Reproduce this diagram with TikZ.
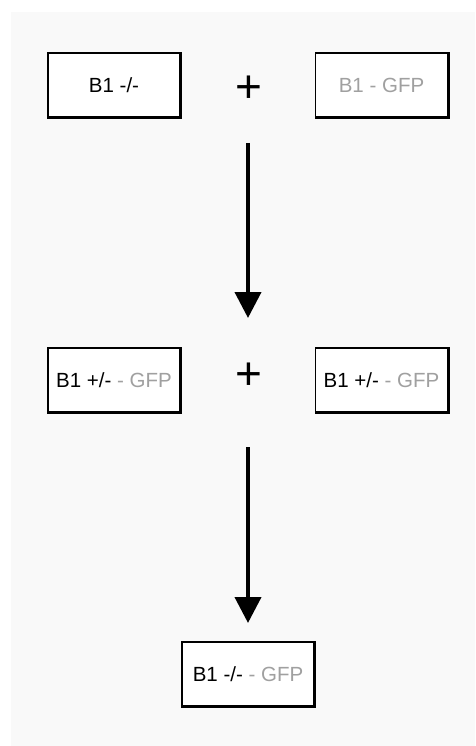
\documentclass[tikz,border=0pt]{standalone}
\usepackage{fontspec}
\setmainfont{Liberation Sans}
\usetikzlibrary{arrows.meta}
\definecolor{bgc}{RGB}{249,249,249}
\definecolor{gfpc}{RGB}{160,160,160}
\tikzset{
  box/.style={draw, line width=1.3pt, fill=white, minimum width=132pt, minimum height=64pt, inner sep=0pt, font=\fontsize{20.5}{24}\selectfont},
  heavy/.style={line width=3pt, line join=miter},
  plussign/.style={inner sep=0pt, font=\fontsize{46}{50}\selectfont},
  bigarrow/.style={line width=4pt, -{Triangle[width=26pt,length=26pt]}}
}
\begin{document}
\begin{tikzpicture}[x=1pt, y=-1pt]
\useasboundingbox (0,0) rectangle (475,746);
\fill[white] (0,0) rectangle (475,746);
\fill[bgc] (11,12) rectangle (475,746);

\node[box] (b1) at (114,85) {B1 -/-};
\node[box, text=gfpc] (b2) at (381.5,85) {B1 - GFP};
\node[plussign] (p1) at (248.5,88.8) {+};

\node[box] (b3) at (114,380) {B1 +/- \textcolor{gfpc}{- GFP}};
\node[box] (b4) at (381.5,380) {B1 +/- \textcolor{gfpc}{- GFP}};
\node[plussign] (p2) at (248.5,376.5) {+};

\node[box] (b5) at (248,674) {B1 -/- \textcolor{gfpc}{- GFP}};

\foreach \n in {b1,b2,b3,b4,b5}
  \draw[heavy] (\n.north east) -- (\n.south east) -- (\n.south west);

\coordinate (a1s) at (248,143);
\coordinate (a1e) at (248,318);
\coordinate (a2s) at (248,447);
\coordinate (a2e) at (248,623);
\draw[bigarrow] (a1s) -- (a1e);
\draw[bigarrow] (a2s) -- (a2e);
\end{tikzpicture}
\end{document}
